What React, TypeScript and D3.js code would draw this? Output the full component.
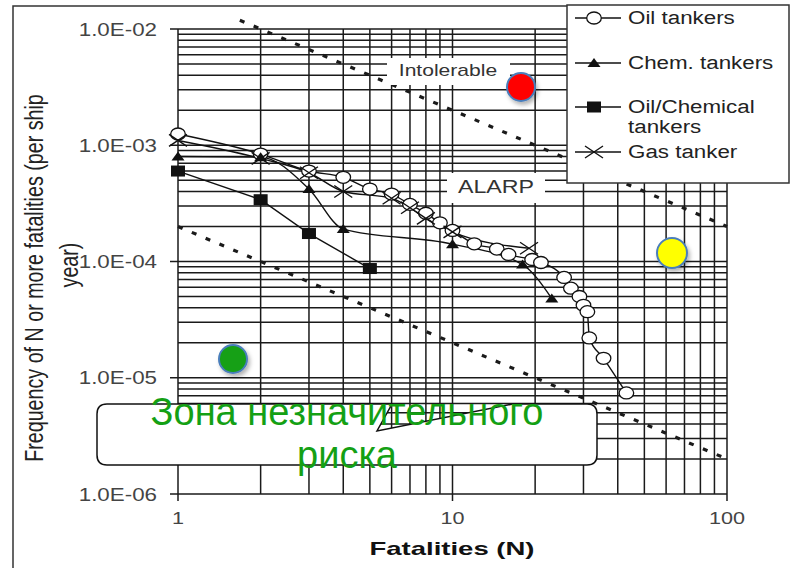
import React from "react";
import * as d3 from "d3";

// F-N curve, values
const oilN = [1, 2, 3, 4, 5, 6, 7, 8, 9, 10, 12, 14.5, 16, 19.5, 21, 25.5, 27, 29, 30, 31, 31.5, 35.5, 43];
const oilF = [1.25e-3, 8.4e-4, 6.0e-4, 5.3e-4, 4.2e-4, 3.8e-4, 3.1e-4, 2.6e-4, 2.15e-4, 1.85e-4, 1.42e-4, 1.28e-4, 1.15e-4, 1.04e-4, 9.8e-5, 7.3e-5, 5.9e-5, 5.0e-5, 4.2e-5, 3.7e-5, 2.2e-5, 1.47e-5, 7.4e-6];

const chemN = [1, 2, 3, 4, 10, 18, 23];
const chemF = [8.0e-4, 7.9e-4, 4.2e-4, 1.9e-4, 1.41e-4, 9.4e-5, 4.8e-5];

const oilChemN = [1, 2, 3, 5];
const oilChemF = [6.0e-4, 3.4e-4, 1.74e-4, 8.7e-5];

const gasN = [1, 2, 3, 4, 6, 7, 8, 10, 19];
const gasF = [1.1e-3, 7.7e-4, 5.8e-4, 4.0e-4, 3.5e-4, 2.9e-4, 2.35e-4, 1.8e-4, 1.3e-4];

// risk criterion lines (dotted)
const upperN = [1.68, 100];
const upperF = [1.19e-2, 2e-4];
const lowerN = [1, 100];
const lowerF = [2e-4, 2e-6];

const yTickValues = [1e-2, 1e-3, 1e-4, 1e-5, 1e-6];
const yTickLabels = ["1.0E-02", "1.0E-03", "1.0E-04", "1.0E-05", "1.0E-06"];
const xTickValues = [1, 10, 100];
const xTickLabels = ["1", "10", "100"];

const legendNames = ["Oil tankers", "Chem. tankers", "Oil/Chemical", "Gas tanker"];

const W = 807;
const H = 568;
const SX = 1.27; // the original picture is stretched sideways
const FONT = "'Liberation Sans', Arial, Helvetica, sans-serif";

const x = d3.scaleLog().domain([1, 100]).range([178, 727]);
const y = d3.scaleLog().domain([1e-6, 1e-2]).range([494, 29]);

const Marker = ({ kind, cx, cy }: { kind: string; cx: number; cy: number }) => {
  if (kind === "circle")
    return <ellipse cx={cx} cy={cy} rx={7.3} ry={6} fill="#fff" stroke="#111" strokeWidth={1.3} />;
  if (kind === "tri")
    return <path d={`M${cx},${cy - 5}L${cx + 6.5},${cy + 4}L${cx - 6.5},${cy + 4}Z`} fill="#111" />;
  if (kind === "square") return <rect x={cx - 7} y={cy - 5.5} width={14} height={11} fill="#111" />;
  return (
    <path
      d={`M${cx - 9},${cy - 6}L${cx + 9},${cy + 6}M${cx - 9},${cy + 6}L${cx + 9},${cy - 6}`}
      stroke="#111"
      strokeWidth={1.4}
      fill="none"
    />
  );
};

const Txt = ({ x: tx, y: ty, size, anchor = "start", fill = "#333", weight = "normal", children }: any) => (
  <text
    transform={`translate(${tx},${ty}) scale(${SX},1)`}
    fontSize={size}
    textAnchor={anchor}
    fontFamily={FONT}
    fontWeight={weight}
    fill={fill}
  >
    {children}
  </text>
);

const App = () => {
  const series = [
    { n: oilN, f: oilF, kind: "circle", curve: d3.curveMonotoneX },
    { n: chemN, f: chemF, kind: "tri", curve: d3.curveMonotoneX },
    { n: oilChemN, f: oilChemF, kind: "square", curve: d3.curveLinear },
    { n: gasN, f: gasF, kind: "x", curve: d3.curveMonotoneX },
  ];

  const xGrid = x.ticks();
  const yGrid = y.ticks();

  const lineOf = (n: number[], f: number[], curve: any) =>
    d3
      .line<number>()
      .x((d) => x(n[d]))
      .y((d) => y(f[d]))
      .curve(curve)(d3.range(n.length)) || "";

  const legendY = [18, 63, 107, 152];
  const legendKinds = ["circle", "tri", "square", "x"];

  const callout =
    "M107,404 H392 L377,431 L513,404 H587 Q597,404 597,414 V455 Q597,465 587,465 H107 Q97,465 97,455 V414 Q97,404 107,404 Z";

  return (
    <div style={{ position: "absolute", left: 0, top: 0 }}>
      <svg width={W} height={H} style={{ display: "block", background: "#fff" }}>
        <defs>
          <filter id="shadow" x="-50%" y="-50%" width="200%" height="200%">
            <feDropShadow dx={2} dy={3} stdDeviation={2} floodColor="#000" floodOpacity={0.3} />
          </filter>
        </defs>

        {/* grid */}
        <g stroke="#1a1a1a" strokeWidth={1.5}>
          {xGrid.map((t) => (
            <line key={"vx" + t} x1={x(t)} x2={x(t)} y1={y(1e-2)} y2={y(1e-6)} />
          ))}
          {yGrid.map((t) => (
            <line key={"hy" + t} x1={x(1)} x2={x(100)} y1={y(t)} y2={y(t)} />
          ))}
          {yTickValues.map((t) => (
            <line key={"ty" + t} x1={x(1) - 8} x2={x(1)} y1={y(t)} y2={y(t)} />
          ))}
          {xTickValues.map((t) => (
            <line key={"tx" + t} x1={x(t)} x2={x(t)} y1={y(1e-6)} y2={y(1e-6) + 7} />
          ))}
        </g>

        {/* criterion lines */}
        <g stroke="#1a1a1a" strokeWidth={3.2} fill="none" strokeDasharray="5 10">
          <path d={lineOf(upperN, upperF, d3.curveLinear)} />
          <path d={lineOf(lowerN, lowerF, d3.curveLinear)} />
        </g>

        {/* region labels */}
        <rect x={387} y={58} width={123} height={27} fill="#fff" />
        <Txt x={448} y={76} size={16.6} anchor="middle">Intolerable</Txt>
        <rect x={447} y={173} width={98} height={30} fill="#fff" />
        <Txt x={496} y={193} size={18.3} anchor="middle">ALARP</Txt>

        {/* series */}
        {series.map((s, i) => (
          <path key={"l" + i} d={lineOf(s.n, s.f, s.curve)} fill="none" stroke="#111" strokeWidth={1.4} />
        ))}
        {series.map((s, i) =>
          s.n.map((n, j) => <Marker key={`m${i}-${j}`} kind={s.kind} cx={x(n)} cy={y(s.f[j])} />)
        )}

        {/* axis tick labels */}
        {yTickValues.map((t, i) => (
          <Txt key={"yl" + t} x={157} y={y(t) + 6.5} size={17.6} anchor="end" fill="#444">
            {yTickLabels[i]}
          </Txt>
        ))}
        {xTickValues.map((t, i) => (
          <Txt key={"xl" + t} x={x(t)} y={524} size={17} anchor="middle" fill="#444">
            {xTickLabels[i]}
          </Txt>
        ))}

        {/* axis titles */}
        <text
          transform={`translate(43,278) scale(${SX},1) rotate(-90)`}
          fontSize={19.7}
          textAnchor="middle"
          fontFamily={FONT}
          fill="#222"
        >
          Frequency of N or more fatalities (per ship
        </text>
        <text
          transform={`translate(78,265) scale(${SX},1) rotate(-90)`}
          fontSize={19.7}
          textAnchor="middle"
          fontFamily={FONT}
          fill="#222"
        >
          year)
        </text>
        <text
          x={452}
          y={555}
          fontSize={19}
          fontWeight="bold"
          textAnchor="middle"
          fontFamily={FONT}
          fill="#111"
          textLength={165}
          lengthAdjust="spacingAndGlyphs"
        >
          Fatalities (N)
        </text>

        {/* legend */}
        <rect x={567} y={5} width={222} height={178} fill="#fff" stroke="#333" strokeWidth={1.5} />
        {legendNames.map((name, i) => (
          <g key={"lg" + i}>
            <line x1={575} x2={621} y1={legendY[i]} y2={legendY[i]} stroke="#111" strokeWidth={1.5} />
            <Marker kind={legendKinds[i]} cx={594} cy={legendY[i]} />
            <Txt x={628} y={legendY[i] + 6} size={17.6} fill="#222">
              {name}
            </Txt>
          </g>
        ))}
        <Txt x={628} y={133} size={17.6} fill="#222">tankers</Txt>

        {/* outer frame */}
        <path d="M13,568 V6 H567" fill="none" stroke="#333" strokeWidth={1.5} />

        {/* risk zone markers */}
        <g filter="url(#shadow)" stroke="#4a7ebb" strokeWidth={2}>
          <circle cx={521} cy={87} r={14} fill="#ff0000" />
          <circle cx={672} cy={253} r={15} fill="#ffff00" />
          <circle cx={233} cy={359} r={14} fill="#15a015" />
        </g>

        {/* callout */}
        <path d={callout} fill="#fff" stroke="#111" strokeWidth={1.5} />
        <text x={347} y={425} fontSize={38} textAnchor="middle" fontFamily={FONT} fill="#14a014">
          Зона незначительного
        </text>
        <text x={347} y={468} fontSize={38} textAnchor="middle" fontFamily={FONT} fill="#14a014">
          риска
        </text>
      </svg>
    </div>
  );
};

export default App;
